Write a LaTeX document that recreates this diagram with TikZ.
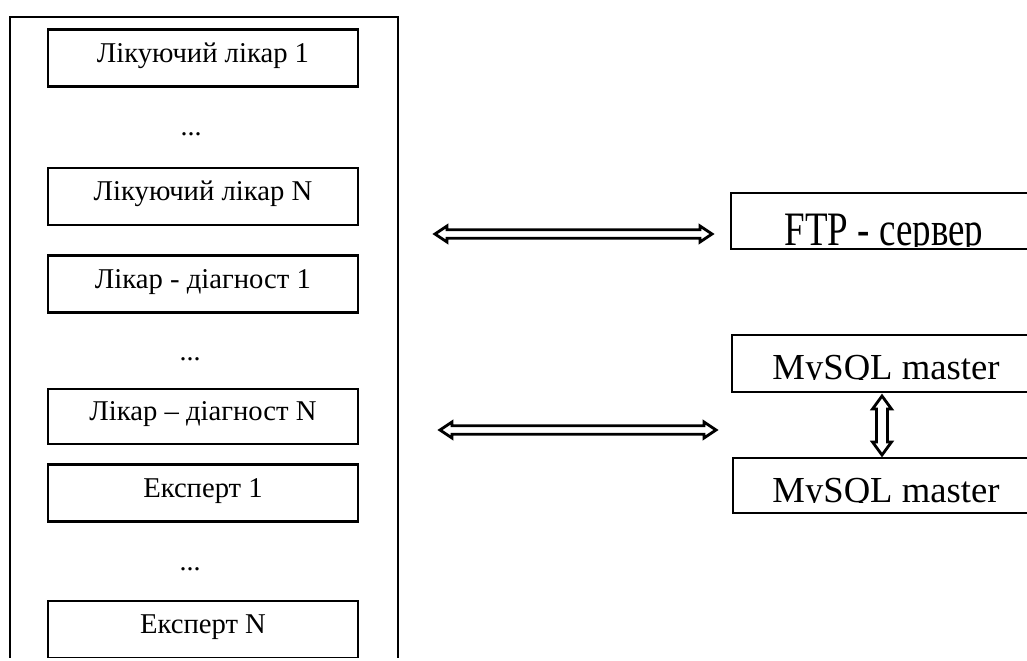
\documentclass[tikz,border=0pt]{standalone}
\usepackage{fontspec}
\setmainfont{Liberation Serif}
\usetikzlibrary{calc}
\tikzset{
  lbox/.style={draw, line width=1.8pt, minimum width=232.5pt, minimum height=42.75pt,
    inner sep=0pt, font=\fontsize{21.5}{25}\selectfont, text height=0.85em, text depth=0.22em},
  rbox/.style={draw, line width=1.8pt, minimum width=235.5pt, inner sep=0pt},
  dots/.style={font=\fontsize{21}{24}\selectfont, anchor=base, inner sep=0pt},
  mtext/.style={font=\fontsize{27.5}{32}\selectfont, anchor=base, inner sep=0pt},
  harrow/.style={draw, line width=2.1pt, fill=white, line join=miter, miter limit=10},
}
\begin{document}
\begin{tikzpicture}[x=0.75pt,y=-0.75pt]
\useasboundingbox (0,0) rectangle (1027,660);
\clip (0,0) rectangle (1027,657);
% outer frame
\node[draw, line width=1.5pt, minimum width=291pt, minimum height=525pt, inner sep=0pt] (frame) at (204,367) {};
% left boxes
\node[lbox] (b1) at (203,58) {Лікуючий лікар 1};
\node[dots] (d1) at (191,135) {...};
\node[lbox] (b2) at (203,196.5) {Лікуючий лікар N};
\node[lbox] (b3) at (203,284) {Лікар - діагност 1};
\node[dots] (d2) at (190,360) {...};
\node[lbox, minimum height=41.25pt] (b4) at (203,416.5) {Лікар – діагност N};
\node[lbox] (b5) at (203,493) {Експерт 1};
\node[dots] (d3) at (190,570) {...};
\node[lbox] (b6) at (203,629.5) {Експерт N};
% right boxes
\node[rbox, minimum height=42pt] (ftp) at (888,221) {};
\begin{scope}
  \clip (731,193) rectangle (1045,246.3);
  \node[anchor=base, inner sep=0pt, font=\fontsize{36}{40}\selectfont] (ftpt) at (884,245.5) {\scalebox{0.77}[1]{FTP - сервер}};
\end{scope}
\node[rbox, minimum height=42.75pt] (my1) at (889,363.5) {};
\begin{scope}
  \clip (733,335) rectangle (1045,379.8);
  \node[mtext] (my1t) at (886,379.5) {MySQL master};
\end{scope}
\node[rbox, minimum height=41.25pt] (my2) at (890,485.5) {};
\begin{scope}
  \clip (735,458) rectangle (1045,502.3);
  \node[mtext] (my2t) at (886,502) {MySQL master};
\end{scope}
% arrows (hollow double-headed)
\coordinate (a1l) at (435,234);
\coordinate (a1r) at (712,234);
\coordinate (a2l) at (440,430);
\coordinate (a2r) at (716,430);
\coordinate (v1) at (882,396);
\coordinate (v2) at (882,455);
\draw[harrow] (a1l) -- ($(a1l)+(12,-8)$) -- ($(a1l)+(12,-4.2)$) -- ($(a1r)+(-12,-4.2)$) -- ($(a1r)+(-12,-8)$)
  -- (a1r) -- ($(a1r)+(-12,8)$) -- ($(a1r)+(-12,4.2)$) -- ($(a1l)+(12,4.2)$) -- ($(a1l)+(12,8)$) -- cycle;
\draw[harrow] (a2l) -- ($(a2l)+(12,-8)$) -- ($(a2l)+(12,-4.2)$) -- ($(a2r)+(-12,-4.2)$) -- ($(a2r)+(-12,-8)$)
  -- (a2r) -- ($(a2r)+(-12,8)$) -- ($(a2r)+(-12,4.2)$) -- ($(a2l)+(12,4.2)$) -- ($(a2l)+(12,8)$) -- cycle;
\draw[harrow] (v1) -- ($(v1)+(-9.5,13)$) -- ($(v1)+(-5.5,13)$) -- ($(v2)+(-5.5,-13)$) -- ($(v2)+(-9.5,-13)$)
  -- (v2) -- ($(v2)+(9.5,-13)$) -- ($(v2)+(5.5,-13)$) -- ($(v1)+(5.5,13)$) -- ($(v1)+(9.5,13)$) -- cycle;
\end{tikzpicture}
\end{document}
